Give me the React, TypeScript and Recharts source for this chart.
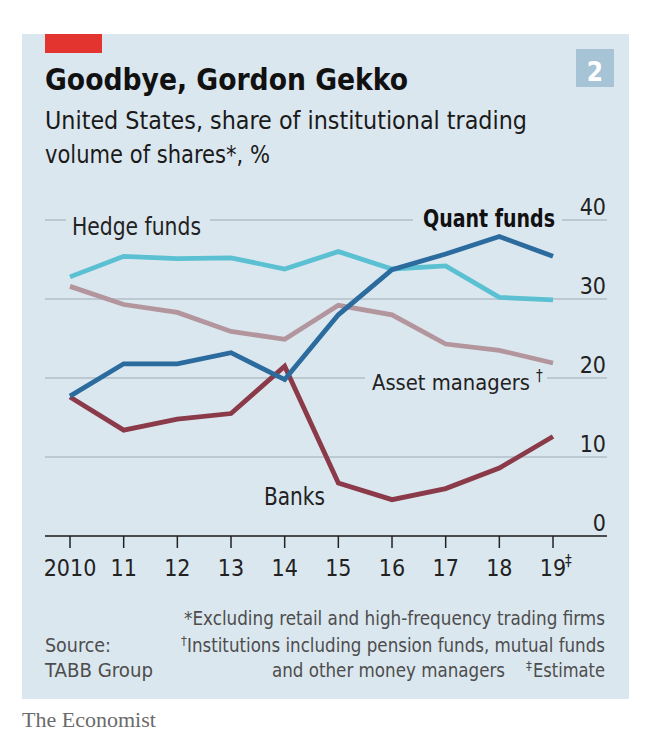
import { CartesianGrid, Line, LineChart, XAxis, YAxis } from "recharts";

const years = [2010, 2011, 2012, 2013, 2014, 2015, 2016, 2017, 2018, 2019];
const yearLabels = ["2010", "11", "12", "13", "14", "15", "16", "17", "18", "19"];
const hedgeFunds = [32.8, 35.4, 35.1, 35.2, 33.8, 36.0, 33.8, 34.2, 30.2, 29.9];
const assetManagers = [31.6, 29.3, 28.3, 25.9, 24.9, 29.2, 28.0, 24.3, 23.5, 21.9];
const banks = [17.6, 13.4, 14.8, 15.5, 21.5, 6.7, 4.6, 6.0, 8.6, 12.6];
const quantFunds = [17.7, 21.8, 21.8, 23.2, 19.8, 28.0, 33.7, 35.7, 37.9, 35.4];
const yTicks = [0, 10, 20, 30, 40];

const data = years.map((year, i) => ({
  year,
  hedge: hedgeFunds[i],
  asset: assetManagers[i],
  banks: banks[i],
  quant: quantFunds[i],
}));

const FONT = "'DejaVu Sans Condensed', 'Liberation Sans Narrow', 'Open Sans', sans-serif";
const PANEL = "#dbe7ef";
const NOTE = "#4d4d4d";

function XTick(props: any) {
  const { x, y, payload } = props;
  const i = years.indexOf(payload.value);
  return (
    <g>
      <text x={x} y={y + 28} textAnchor="middle" fontSize={23} fill="#222" fontFamily={FONT}>
        {yearLabels[i]}
      </text>
      {i === years.length - 1 && (
        <text x={x + 12} y={y + 18} fontSize={15} fill="#222" fontFamily={FONT}>
          ‡
        </text>
      )}
    </g>
  );
}

function YTick(props: any) {
  const { y, payload } = props;
  return (
    <text x={606} y={y - 5} textAnchor="end" fontSize={23} fill="#222" fontFamily={FONT}>
      {payload.value}
    </text>
  );
}

export default function App() {
  return (
    <div style={{ position: "absolute", left: 0, top: 0, width: 654, height: 742, background: "#fff" }}>
      <div style={{ position: "absolute", left: 22, top: 34, width: 607, height: 665, background: PANEL }} />
      <div style={{ position: "absolute", left: 45, top: 34, width: 57, height: 19, background: "#e3342f" }} />
      <div style={{ position: "absolute", left: 576, top: 49, width: 38, height: 38, background: "#a7c3d6" }} />
      <div style={{ position: "absolute", left: 0, top: 0 }}>
        <LineChart width={654} height={742} data={data} margin={{ top: 220, right: 7, bottom: 166, left: 45 }}>
          <CartesianGrid vertical={false} stroke="#b3bfc8" strokeWidth={1.5} />
          <XAxis
            dataKey="year"
            type="number"
            domain={[2009.534, 2020.006]}
            ticks={years}
            allowDataOverflow
            height={40}
            tickSize={12}
            tickMargin={0}
            axisLine={{ stroke: "#222", strokeWidth: 1.5 }}
            tickLine={{ stroke: "#222", strokeWidth: 1.5 }}
            tick={<XTick />}
          />
          <YAxis
            orientation="right"
            domain={[0, 40]}
            ticks={yTicks}
            width={40}
            axisLine={false}
            tickLine={false}
            tick={<YTick />}
          />
          <Line dataKey="hedge" type="linear" stroke="#5bc1d2" strokeWidth={4.8} dot={false} isAnimationActive={false} />
          <Line dataKey="asset" type="linear" stroke="#b3969d" strokeWidth={4.8} dot={false} isAnimationActive={false} />
          <Line dataKey="banks" type="linear" stroke="#8b3a4a" strokeWidth={4.8} dot={false} isAnimationActive={false} />
          <Line dataKey="quant" type="linear" stroke="#2b6b9e" strokeWidth={4.8} dot={false} isAnimationActive={false} />
        </LineChart>
      </div>
      <svg width={654} height={742} style={{ position: "absolute", left: 0, top: 0, pointerEvents: "none" }}>
        <g fontFamily={FONT}>
          <text x={595} y={81} textAnchor="middle" fontSize={26} fontWeight="bold" fill="#fff">2</text>
          <text x={45} y={90} fontSize={31} fontWeight="bold" fill="#111" textLength={363} lengthAdjust="spacingAndGlyphs">
            Goodbye, Gordon Gekko
          </text>
          <text x={45} y={129} fontSize={25} fill="#1a1a1a" textLength={482} lengthAdjust="spacingAndGlyphs">
            United States, share of institutional trading
          </text>
          <text x={45} y={163} fontSize={25} fill="#1a1a1a" textLength={225} lengthAdjust="spacingAndGlyphs">
            volume of shares*, %
          </text>

          <rect x={66} y={217} width={144} height={6} fill={PANEL} />
          <text x={72} y={235} fontSize={24} fill="#222" textLength={129} lengthAdjust="spacingAndGlyphs">Hedge funds</text>
          <rect x={413} y={217} width={149} height={6} fill={PANEL} />
          <text x={423} y={227} fontSize={24} fontWeight="bold" fill="#111" textLength={132} lengthAdjust="spacingAndGlyphs">
            Quant funds
          </text>
          <rect x={365} y={375} width={182} height={6} fill={PANEL} />
          <text x={372} y={390} fontSize={22} fill="#222" textLength={158} lengthAdjust="spacingAndGlyphs">
            Asset managers
          </text>
          <text x={536} y={381} fontSize={15} fill="#222">†</text>
          <text x={264} y={505} fontSize={24} fill="#222" textLength={61} lengthAdjust="spacingAndGlyphs">Banks</text>

          <text x={184} y={625} fontSize={20} fill={NOTE} textLength={421} lengthAdjust="spacingAndGlyphs">
            *Excluding retail and high-frequency trading firms
          </text>
          <text x={181} y={645} fontSize={13} fill={NOTE}>†</text>
          <text x={187} y={652} fontSize={20} fill={NOTE} textLength={418} lengthAdjust="spacingAndGlyphs">
            Institutions including pension funds, mutual funds
          </text>
          <text x={272} y={677} fontSize={20} fill={NOTE} textLength={233} lengthAdjust="spacingAndGlyphs">
            and other money managers
          </text>
          <text x={526} y={670} fontSize={13} fill={NOTE}>‡</text>
          <text x={533} y={677} fontSize={20} fill={NOTE} textLength={72} lengthAdjust="spacingAndGlyphs">Estimate</text>
          <text x={45} y={652} fontSize={20} fill={NOTE} textLength={66} lengthAdjust="spacingAndGlyphs">Source:</text>
          <text x={45} y={677} fontSize={20} fill={NOTE} textLength={108} lengthAdjust="spacingAndGlyphs">TABB Group</text>
        </g>
        <text x={22} y={727} fontSize={22} fill="#6b6b6b" fontFamily="'Liberation Serif', 'DejaVu Serif', serif">
          The Economist
        </text>
      </svg>
    </div>
  );
}
